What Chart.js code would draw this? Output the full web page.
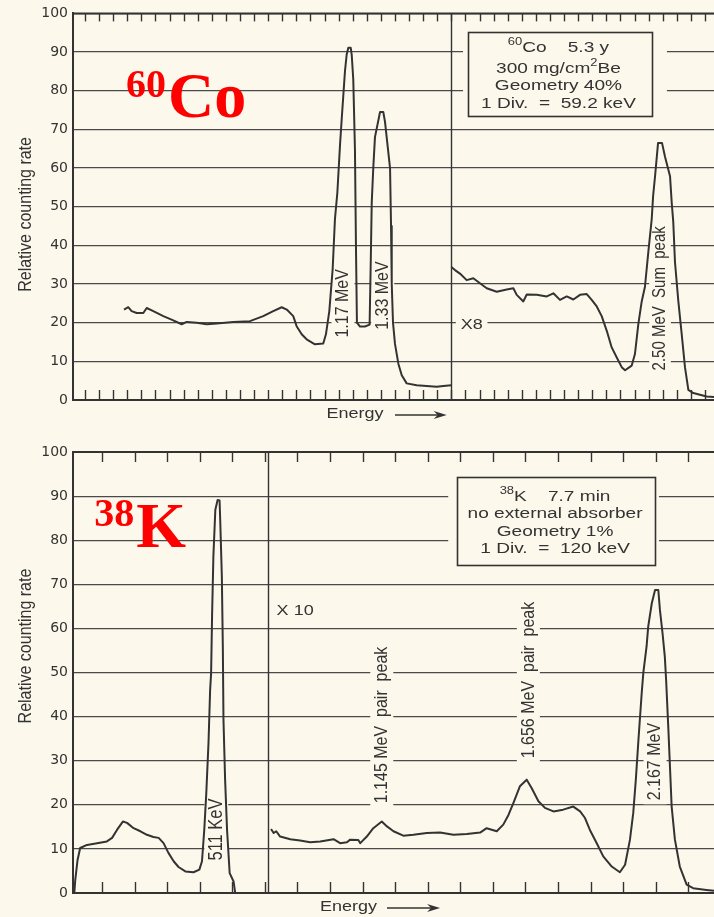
<!DOCTYPE html>
<html>
<head>
<meta charset="utf-8">
<script src="https://cdn.jsdelivr.net/npm/chart.js@4.4.1/dist/chart.umd.min.js"></script>
<style>
  html, body { margin: 0; padding: 0; background: #fcf9ec; }
  #wrap { position: relative; width: 714px; height: 917px; overflow: hidden; }
  canvas { position: absolute; left: 0; }
</style>
</head>
<body>
<div id="wrap">
  <canvas id="coChart" width="714" height="430" style="top:0px"></canvas>
  <canvas id="kChart" width="714" height="487" style="top:430px"></canvas>
</div>
<script>
// energy in analyser divisions, rate in relative counting rate units

// 60Co, left part (x1)
const coLowEnergy = [2.77,3.07,3.31,3.67,4.14,4.38,4.85,5.56,6.27,6.86,7.22,7.93,8.64,9.35,10.53,11.71,12.65,13.36,13.96,14.32,
  14.78,15.02,15.38,15.73,16.32,16.91,17.1,17.34,17.58,17.74,17.91,18.1,18.22,18.45,18.57,18.69,18.86,18.93,19.04,19.16,
  19.23,19.3,19.52,19.87,20.2,20.28,20.35,20.46,20.58,20.94,21.17,21.29,21.41,21.65,21.72,21.77,21.86,22.0,22.24,22.48,
  22.83,23.54,24.25,24.96,25.43,26];
const coLowRate = [23.4,24,23,22.5,22.5,23.8,23,21.7,20.6,19.6,20.2,20,19.6,19.8,20.2,20.4,21.7,23,24,23.4,
  21.7,19.1,17,15.7,14.4,14.6,17,23,34,46.8,53.6,66,72.7,85,89.3,91.1,91.1,89.3,82.9,64.6,
  40,20,19,19,19.5,35.7,51,60,68,74.5,74.5,72,68,60,45,30,20,14.5,9.4,6.4,
  4.3,3.8,3.6,3.4,3.6,3.8];
// 60Co, right part (x8)
const coHighEnergy = [26,26.26,26.61,27.09,27.56,28.03,28.51,29.22,29.93,30.4,30.64,31.11,31.35,32.06,32.77,33.24,33.71,34.19,34.66,35.13,
  35.61,35.96,36.32,36.67,37.03,37.38,37.74,38.09,38.33,38.8,39.03,39.27,39.51,39.74,39.98,40.22,40.32,40.46,40.67,40.95,
  41.16,41.52,41.64,41.75,41.87,42.11,42.35,42.58,42.82,43.17,44.12,44.64];
const coHighRate = [34.4,33.6,32.7,31,31.5,30.2,28.9,28,28.6,28.9,27.2,25.5,27.3,27.2,26.8,27.6,25.9,26.8,26,27.2,
  27.4,25.9,24.2,21.7,17.9,13.6,11,8.5,7.7,8.9,11.9,19.6,25.5,29.3,38.3,46.8,52.8,58,66.5,66.5,
  63,57.9,51,46,35.7,25.5,17,8.5,2.6,1.8,0.9,0.8];

// 38K, left part (x1)
const kLowEnergy = [-0.85,-0.82,-0.75,-0.67,-0.46,-0.15,0.15,0.31,0.46,0.64,0.77,0.97,1.18,1.38,1.58,1.74,1.89,2.04,2.2,2.35,
  2.56,2.81,2.99,3.07,3.14,3.2,3.27,3.32,3.35,3.38,3.42,3.48,3.55,3.61,3.63,3.68,3.71,3.73,3.78,3.84,
  3.92,4.04,4.09];
const kLowRate = [0,3,7.5,10.2,10.9,11.3,11.7,12.5,14.3,16.2,15.9,14.7,14,13.2,12.7,12.5,11.3,9.1,7.2,5.9,
  4.9,4.7,5.3,7.2,14.3,22.3,34,46,49.8,62.8,76.3,86.9,89.1,89,84.6,71.7,55.9,39.3,25.7,14.3,
  4.5,2.6,0];
// 38K, right part (x10)
const kHighEnergy = [5.19,5.27,5.35,5.47,5.78,6.08,6.39,6.7,7.11,7.31,7.52,7.62,7.87,7.93,8.13,8.33,8.59,8.75,8.95,9.25,
  9.56,9.97,10.38,10.79,11.2,11.61,11.81,12.12,12.32,12.48,12.63,12.83,13.04,13.19,13.4,13.6,13.86,14.16,14.47,14.68,
  14.83,14.98,15.19,15.39,15.65,15.9,16.06,16.21,16.31,16.39,16.47,16.57,16.62,16.72,16.77,16.88,16.98,17.08,17.13,17.21,
  17.28,17.32,17.39,17.49,17.59,17.74,17.95,18.15,18.56,18.79];
const kHighRate = [14.5,13.6,14,12.8,12.2,11.9,11.5,11.7,12.2,11.3,11.5,12.1,12,11.3,12.8,14.7,16.2,15.1,14,13,
  13.2,13.6,13.7,13.2,13.4,13.7,14.7,14,15.5,17.7,20.4,24.2,25.7,23.8,20.8,19.3,18.5,18.9,19.6,18.5,
  17,14.3,11.3,8.3,6,4.7,6.4,12.1,18.1,25.7,34.7,45.3,49.9,55.9,60.4,65.7,68.7,68.7,64.2,58.9,
  53.6,48.3,37,19.6,12.1,6,1.9,1.1,0.7,0.5];

const rateMin = 0, rateMax = 100, rateStep = 10;

const INK = '#333333';
const PAPER = '#fcf9ec';
const SANS = '"Liberation Sans", Arial, sans-serif';
const SERIF = '"Liberation Serif", "Times New Roman", serif';
const SX = 1.2; // the scan is a bit wide, text is stretched to match

function pairs(xs, ys) {
  return xs.map((x, i) => ({ x: x, y: ys[i] }));
}

function partsOf(t) {
  return typeof t === 'string' ? [[t, 0]] : t;
}

function partsWidth(ctx, parts, size) {
  var w = 0;
  parts.forEach(function (p) {
    ctx.font = (p[1] ? size * 0.68 : size) + 'px ' + SANS;
    w += ctx.measureText(p[0]).width;
  });
  return w;
}

// lab.x / lab.y in data units, lab.px / lab.py override them in pixels
function drawLabel(chart, lab, mask) {
  const ctx = chart.ctx;
  const px = lab.px !== undefined ? lab.px : chart.scales.x.getPixelForValue(lab.x);
  const py = lab.py !== undefined ? lab.py : chart.scales.y.getPixelForValue(lab.y);
  const size = lab.size || 15;
  const parts = partsOf(lab.text);
  ctx.save();
  ctx.translate(px, py);
  ctx.scale(lab.sx || SX, 1);
  if (lab.rot) ctx.rotate(-Math.PI / 2);
  const w = partsWidth(ctx, parts, size);
  if (mask) {
    ctx.fillStyle = PAPER;
    ctx.fillRect(-w / 2 - 4, -size * 0.6, w + 8, size * 1.2);
  } else {
    ctx.fillStyle = INK;
    ctx.textBaseline = 'middle';
    ctx.textAlign = 'left';
    var cx = -w / 2;
    parts.forEach(function (p) {
      const s = p[1] ? size * 0.68 : size;
      ctx.font = s + 'px ' + SANS;
      ctx.fillText(p[0], cx, p[1] ? -size * 0.38 : 0);
      cx += ctx.measureText(p[0]).width;
    });
  }
  ctx.restore();
}

function line(ctx, x0, y0, x1, y1) {
  ctx.beginPath();
  ctx.moveTo(x0, y0);
  ctx.lineTo(x1, y1);
  ctx.stroke();
}

const paperPlugin = {
  id: 'paper',
  beforeDatasetsDraw(chart) {
    const cfg = chart.options.plugins.paper;
    const ctx = chart.ctx, a = chart.chartArea;
    const xs = chart.scales.x, ys = chart.scales.y;
    ctx.save();
    // gaps in the grid around the legend box and the labels
    const m = cfg.box.mask;
    const mx0 = xs.getPixelForValue(m[0]), mx1 = xs.getPixelForValue(m[1]);
    const my0 = ys.getPixelForValue(m[2]), my1 = ys.getPixelForValue(m[3]);
    ctx.fillStyle = PAPER;
    ctx.fillRect(mx0, my0, mx1 - mx0, my1 - my0);
    cfg.labels.forEach(function (l) { drawLabel(chart, l, true); });

    ctx.strokeStyle = INK;
    // top frame
    ctx.lineWidth = 2;
    line(ctx, a.left - 1, a.top, a.right, a.top);
    // divider between the two gain settings
    const dx = Math.round(xs.getPixelForValue(cfg.divider)) + 0.5;
    ctx.lineWidth = 1.4;
    line(ctx, dx, a.top, dx, a.bottom);
    // division marks, inside, top and bottom
    ctx.lineWidth = 1.4;
    for (let k = Math.ceil(xs.min); k <= xs.max; k++) {
      const x = Math.round(xs.getPixelForValue(k)) + 0.5;
      line(ctx, x, a.bottom, x, a.bottom - cfg.tickBottom);
      line(ctx, x, a.top, x, a.top + cfg.tickTop);
    }
    ctx.restore();
  },
  afterDatasetsDraw(chart) {
    const cfg = chart.options.plugins.paper;
    const ctx = chart.ctx, a = chart.chartArea;
    const xs = chart.scales.x, ys = chart.scales.y;
    ctx.save();
    cfg.labels.forEach(function (l) { drawLabel(chart, l, false); });

    // legend box
    const b = cfg.box;
    const bx0 = Math.round(xs.getPixelForValue(b.x0)) + 0.5, bx1 = Math.round(xs.getPixelForValue(b.x1)) + 0.5;
    const by0 = Math.round(ys.getPixelForValue(b.y0)) + 0.5, by1 = Math.round(ys.getPixelForValue(b.y1)) + 0.5;
    ctx.strokeStyle = INK;
    ctx.lineWidth = 1.6;
    ctx.strokeRect(bx0, by0, bx1 - bx0, by1 - by0);
    b.lines.forEach(function (t, i) {
      drawLabel(chart, { text: t, x: b.cx, y: b.ly[i], size: 15.5, sx: 1.23 }, false);
    });

    // isotope name in red
    const iso = cfg.isotope;
    const ix = xs.getPixelForValue(iso.x), iy = ys.getPixelForValue(iso.y);
    ctx.fillStyle = '#ff0000';
    ctx.textBaseline = 'alphabetic';
    ctx.textAlign = 'left';
    ctx.font = 'bold 40px ' + SERIF;
    ctx.fillText(iso.mass, ix, iy - iso.raise);
    const mw = ctx.measureText(iso.mass).width;
    ctx.font = 'bold 64px ' + SERIF;
    ctx.fillText(iso.symbol, ix + mw + 2, iy);

    // axis titles
    drawLabel(chart, { text: 'Relative counting rate', px: 25.5, y: cfg.yTitleAt, rot: 1, size: 16 }, false);
    const ey = a.bottom + 14;
    drawLabel(chart, { text: 'Energy', x: cfg.energyAt, py: ey, size: 15 }, false);
    const ax0 = xs.getPixelForValue(cfg.arrow[0]), ax1 = xs.getPixelForValue(cfg.arrow[1]);
    ctx.strokeStyle = INK;
    ctx.fillStyle = INK;
    ctx.lineWidth = 1.4;
    line(ctx, ax0, ey + 1, ax1 - 4, ey + 1);
    ctx.beginPath();
    ctx.moveTo(ax1, ey + 1);
    ctx.lineTo(ax1 - 13, ey - 3);
    ctx.lineTo(ax1 - 9, ey + 1);
    ctx.lineTo(ax1 - 13, ey + 5);
    ctx.closePath();
    ctx.fill();
    ctx.restore();
  }
};

function spectrumConfig(segments, xMin, xMax, padTop, xHeight, paper) {
  return {
    type: 'line',
    data: {
      datasets: segments.map(function (s) {
        return {
          data: s,
          borderColor: INK,
          borderWidth: 2,
          pointRadius: 0,
          fill: false,
          tension: 0,
          borderJoinStyle: 'round'
        };
      })
    },
    options: {
      responsive: false,
      animation: false,
      devicePixelRatio: 1,
      layout: { padding: { top: padTop, right: 0, bottom: 0, left: 0 } },
      plugins: {
        legend: { display: false },
        tooltip: { enabled: false },
        paper: paper
      },
      scales: {
        x: {
          type: 'linear',
          min: xMin,
          max: xMax,
          ticks: { display: false },
          grid: { display: false, drawTicks: false },
          border: { display: true, color: INK, width: 2 },
          afterFit: function (s) { s.height = xHeight; }
        },
        y: {
          min: rateMin,
          max: rateMax,
          ticks: {
            stepSize: rateStep,
            padding: 5,
            color: INK,
            font: { family: '"DejaVu Sans"', size: 14 }
          },
          grid: { color: '#4a4a4a', lineWidth: 1.2, drawTicks: false },
          border: { display: true, color: INK, width: 2 },
          afterFit: function (s) { s.width = 73; }
        }
      }
    },
    plugins: [paperPlugin]
  };
}

const coChart = new Chart(document.getElementById('coChart'), spectrumConfig(
  [pairs(coLowEnergy, coLowRate), pairs(coHighEnergy, coHighRate)],
  -0.85, 44.64, 9, 30,
  {
    divider: 26,
    tickTop: 8,
    tickBottom: 10,
    yTitleAt: 48,
    energyAt: 19.16,
    arrow: [22.0, 25.67],
    isotope: { mass: '60', symbol: 'Co', x: 2.91, y: 73.2, raise: 20 },
    labels: [
      { text: '1.17 MeV', x: 18.31, y: 25, rot: 1, size: 16 },
      { text: '1.33 MeV', x: 21.13, y: 27, rot: 1, size: 16 },
      { text: 'X8', x: 27.44, y: 19.4, size: 15 },
      { text: '2.50 MeV  Sum  peak', x: 40.81, y: 26.3, rot: 1, size: 15 }
    ],
    box: {
      x0: 27.2, x1: 40.26, y0: 95.2, y1: 73.4,
      mask: [26.83, 41.3, 96.4, 72.2],
      cx: 33.6,
      ly: [91.1, 85.7, 81.2, 76.7],
      lines: [
        [['60', 1], ['Co    5.3 y', 0]],
        [['300 mg/cm', 0], ['2', 1], ['Be', 0]],
        'Geometry 40%',
        '1 Div.  =  59.2 keV'
      ]
    }
  }
));

const kChart = new Chart(document.getElementById('kChart'), spectrumConfig(
  [pairs(kLowEnergy, kLowRate), pairs(kHighEnergy, kHighRate)],
  -0.89, 18.79, 22, 24,
  {
    divider: 5.11,
    tickTop: 10,
    tickBottom: 11,
    yTitleAt: 56,
    energyAt: 7.57,
    arrow: [8.75, 10.38],
    isotope: { mass: '38', symbol: 'K', x: -0.24, y: 78.5, raise: 21 },
    labels: [
      { text: 'X 10', x: 5.93, y: 64, size: 15 },
      { text: '511 KeV', x: 3.51, y: 14.4, rot: 1, size: 16.5 },
      { text: '1.145 MeV  pair  peak', x: 8.59, y: 38.1, rot: 1, size: 16 },
      { text: '1.656 MeV  pair  peak', x: 13.09, y: 48.3, rot: 1, size: 16 },
      { text: '2.167 MeV', x: 16.98, y: 29.8, rot: 1, size: 16 }
    ],
    box: {
      x0: 10.89, x1: 16.98, y0: 94.3, y1: 74.4,
      mask: [10.63, 17.1, 95.5, 73.2],
      cx: 13.91,
      ly: [89.8, 86.0, 81.9, 78.0],
      lines: [
        [['38', 1], ['K    7.7 min', 0]],
        'no external absorber',
        'Geometry 1%',
        '1 Div.  =  120 keV'
      ]
    }
  }
));
</script>
</body>
</html>
